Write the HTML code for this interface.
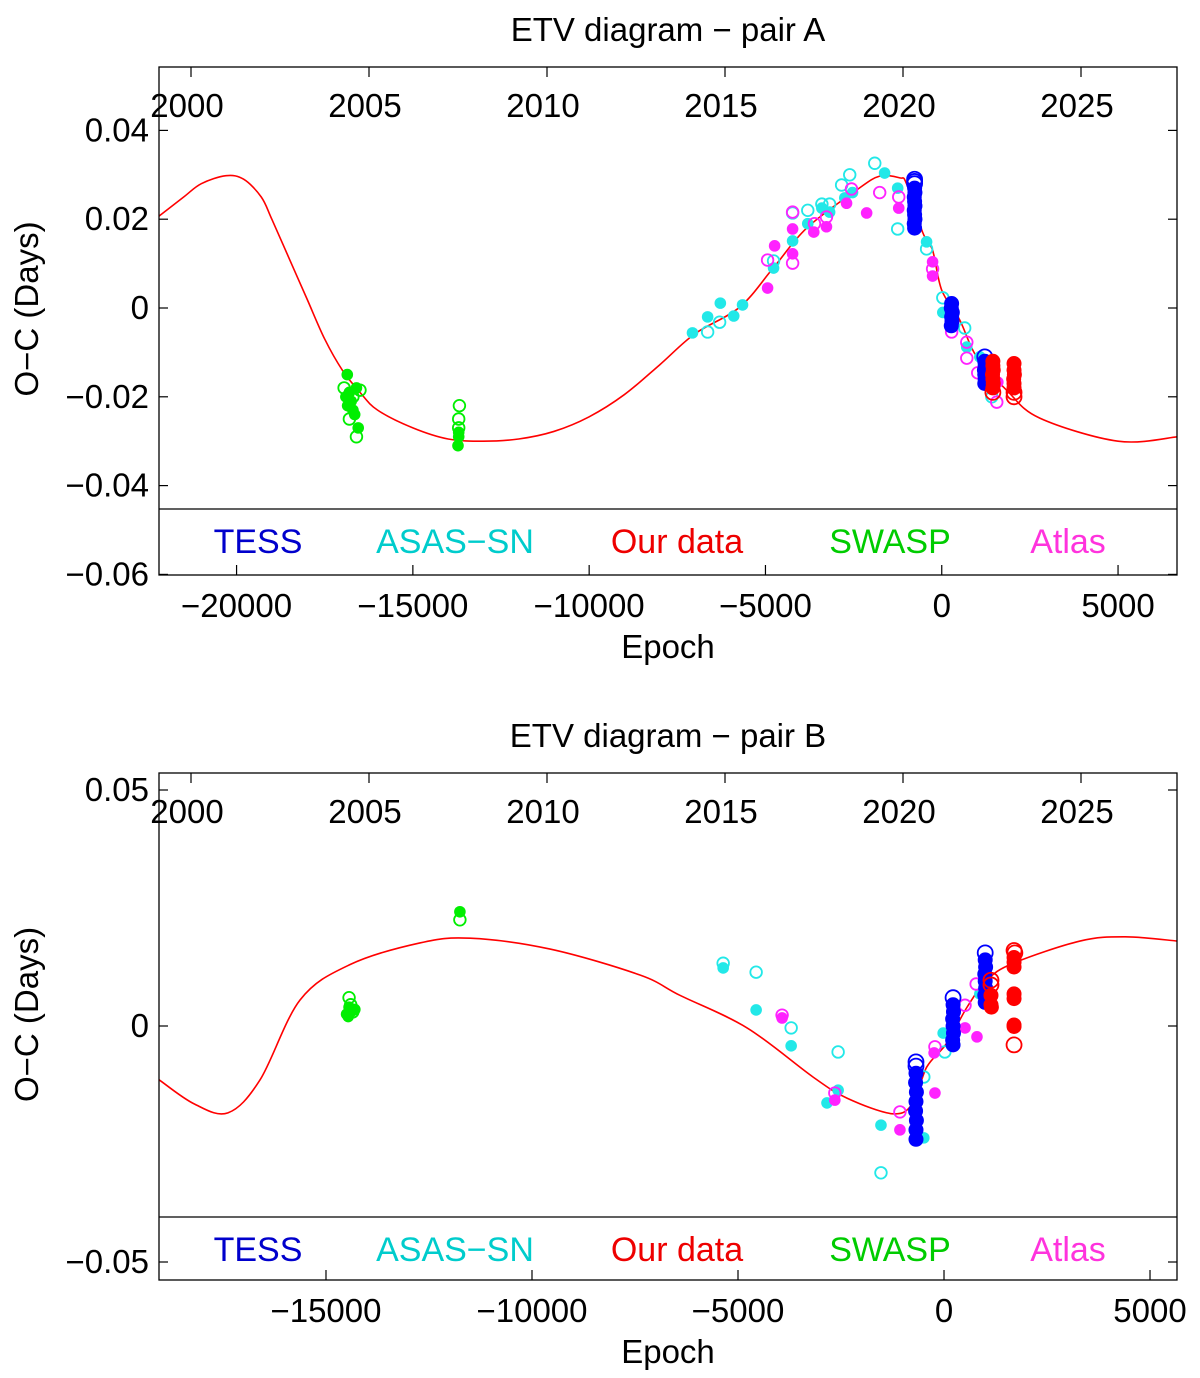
<!DOCTYPE html>
<html><head><meta charset="utf-8"><style>
html,body{margin:0;padding:0;background:#fff}
svg{display:block}
text{font-family:"Liberation Sans",sans-serif;fill:#000}
</style></head><body>
<svg id="chart" width="1200" height="1378" viewBox="0 0 1200 1378"></svg>
<script>
// ---------- Panel A data ----------
const curveA_epoch=[-22200,-21500,-21000,-20300,-19800,-19300,-19000,-18500,-18000,-17500,-17000,-16500,-16000,-15000,-14000,-13000,-12000,-11000,-10000,-9000,-8000,-7000,-5730,-4780,-3830,-2410,-1760,-1190,-1000,-540,-260,0,510,990,1840,2780,5000,6700];
const curveA_oc=[0.0207,0.025,0.028,0.0298,0.029,0.025,0.020,0.011,0.002,-0.007,-0.014,-0.019,-0.023,-0.027,-0.0295,-0.030,-0.0295,-0.0278,-0.0245,-0.0195,-0.0128,-0.0058,0.0002,0.009,0.018,0.0266,0.0297,0.0293,0.028,0.017,0.013,0.004,-0.0027,-0.011,-0.0185,-0.0248,-0.030,-0.029];
const swaspA=[[-16860,-0.015,1],[-16800,-0.019,1],[-16900,-0.020,1],[-16750,-0.021,1],[-16850,-0.022,1],[-16700,-0.023,1],[-16650,-0.024,1],[-16550,-0.027,1],[-16600,-0.018,1],[-16950,-0.018,0],[-16700,-0.020,0],[-16500,-0.0185,0],[-16800,-0.025,0],[-16600,-0.029,0],[-13700,-0.028,1],[-13700,-0.029,1],[-13720,-0.031,1],[-13680,-0.022,0],[-13700,-0.025,0],[-13700,-0.027,0]];
const asasA=[[-7070,-0.0056,1],[-6640,-0.0054,0],[-6640,-0.002,1],[-6280,0.0011,1],[-6300,-0.0032,0],[-5900,-0.0018,1],[-5650,0.0007,1],[-4770,0.009,1],[-4770,0.0106,0],[-4230,0.0151,1],[-4230,0.0214,0],[-3800,0.019,1],[-3800,0.022,0],[-3400,0.0225,1],[-3400,0.0234,0],[-3180,0.0234,0],[-3180,0.0216,1],[-2840,0.0277,0],[-2610,0.030,0],[-2750,0.0248,1],[-2530,0.026,1],[-1900,0.0326,0],[-1620,0.0304,1],[-1250,0.0178,0],[-1250,0.027,1],[-430,0.0149,1],[-430,0.0133,0],[30,0.0023,0],[30,-0.001,1],[650,-0.0045,0],[710,-0.0088,1],[1080,-0.011,1],[1420,-0.020,0]];
const atlasA=[[-4940,0.0045,1],[-4940,0.0108,0],[-4740,0.014,1],[-4230,0.0178,1],[-4230,0.0122,1],[-4230,0.0101,0],[-4230,0.0216,0],[-3630,0.0171,1],[-3610,0.019,0],[-3270,0.0183,1],[-3270,0.0205,0],[-2700,0.0236,1],[-2560,0.0268,0],[-2130,0.0214,1],[-1760,0.026,0],[-1220,0.0225,1],[-1220,0.025,0],[-260,0.0104,1],[-260,0.0072,1],[-260,0.0088,0],[280,-0.0054,0],[710,-0.0077,0],[710,-0.0113,0],[1020,-0.0146,0],[1560,-0.0212,0],[1590,-0.0167,1]];
const tessA=[[-770,0.029,0],[-770,0.0285,0],[-770,0.028,0],[-770,0.027,1],[-760,0.026,1],[-780,0.025,1],[-770,0.024,1],[-760,0.023,1],[-780,0.022,1],[-770,0.021,1],[-760,0.020,1],[-780,0.019,1],[-770,0.018,1],[280,0.001,1],[270,0,1],[300,-0.001,1],[280,-0.002,1],[290,-0.003,1],[270,-0.004,1],[1220,-0.011,0],[1220,-0.012,1],[1230,-0.013,1],[1210,-0.014,1],[1220,-0.015,1],[1230,-0.016,1],[1220,-0.017,1]];
const oursA=[[1450,-0.012,1],[1450,-0.013,1],[1460,-0.014,1],[1440,-0.015,1],[1450,-0.016,1],[1460,-0.017,1],[1450,-0.018,1],[1450,-0.019,0],[2050,-0.0125,1],[2050,-0.014,1],[2060,-0.015,1],[2040,-0.016,1],[2050,-0.017,1],[2050,-0.018,1],[2050,-0.019,0],[2050,-0.020,0]];
// ---------- Panel B data ----------
const curveB_epoch=[-19050,-18200,-17380,-16600,-15630,-14420,-12720,-11500,-9560,-7380,-6410,-4780,-3180,-2350,-1240,-750,-420,70,560,1040,1680,3300,4400,5660];
const curveB_oc=[-0.0114,-0.0165,-0.0184,-0.0114,0.0055,0.013,0.0176,0.0186,0.0163,0.0108,0.0065,-0.0004,-0.0108,-0.0153,-0.0186,-0.0163,-0.0087,-0.0036,0.004,0.0097,0.0133,0.018,0.0189,0.018];
const swaspB=[[-14440,0.004,1],[-14400,0.003,1],[-14460,0.002,1],[-14300,0.0035,1],[-14500,0.0025,1],[-14440,0.006,0],[-14400,0.0045,0],[-14350,0.003,0],[-11750,0.0242,1],[-11750,0.0225,0]];
const asasB=[[-5360,0.0133,0],[-5360,0.0123,1],[-4560,0.0114,0],[-4560,0.0034,1],[-3710,-0.0004,0],[-3710,-0.0042,1],[-2570,-0.0055,0],[-2570,-0.0136,1],[-2840,-0.0163,1],[-1530,-0.021,1],[-1530,-0.0311,0],[-490,-0.0108,0],[-490,-0.0237,1],[-20,-0.0015,1],[20,-0.0055,0],[870,0.0068,1]];
const atlasB=[[-3930,0.0023,0],[-3930,0.0017,1],[-2650,-0.0142,0],[-2650,-0.0157,1],[-1070,-0.0182,0],[-1070,-0.022,1],[-220,-0.0044,0],[-240,-0.0057,1],[-220,-0.0142,1],[510,0.0044,0],[510,-0.0004,1],[800,-0.0023,1],[780,0.0089,0]];
const tessB=[[-680,-0.0076,0],[-680,-0.0085,0],[-680,-0.010,1],[-690,-0.012,1],[-670,-0.014,1],[-680,-0.016,1],[-690,-0.018,1],[-670,-0.020,1],[-680,-0.022,1],[-680,-0.024,1],[220,0.006,0],[220,0.0045,1],[230,0.003,1],[210,0.0015,1],[220,0,1],[230,-0.0015,1],[210,-0.003,1],[220,-0.004,1],[1000,0.0155,0],[1000,0.014,1],[1010,0.0125,1],[990,0.011,1],[1000,0.0095,1],[1010,0.008,1],[990,0.0065,1],[1000,0.005,1]];
const oursB=[[1140,0.0097,0],[1140,0.0087,0],[1140,0.0065,1],[1140,0.0045,1],[1150,0.004,1],[1700,0.016,0],[1720,0.0155,0],[1700,0.0145,1],[1700,0.0135,1],[1700,0.0125,1],[1700,0.0068,1],[1700,0.0058,1],[1700,0.0002,1],[1700,-0.0001,1],[1700,-0.004,0]];
const yearTicks=[2000,2005,2010,2015,2020,2025];
const epochTicksA=[-20000,-15000,-10000,-5000,0,5000];
const epochTicksB=[-15000,-10000,-5000,0,5000];
const yTicksA=[0.04,0.02,0,-0.02,-0.04,-0.06];
const yTicksB=[0.05,0,-0.05];
const legendLabels=["TESS","ASAS\u2212SN","Our data","SWASP","Atlas"];
const legendColors=["#0000cc","#00cccc","#ee0000","#00cc00","#ff33dd"];

const NS="http://www.w3.org/2000/svg";
const svg=document.getElementById('chart');
function el(tag,attrs,parent){const e=document.createElementNS(NS,tag);for(const k in attrs)e.setAttribute(k,attrs[k]);(parent||svg).appendChild(e);return e;}
function fmt(v){if(v===0)return"0";let s=String(v);return s.replace('-','\u2212');}

function panel(cfg){
  const g=el('g',{});
  
  
  const L=159,R=1177,T=cfg.top,B=cfg.bottom;
  const xs=e=>L+(e-cfg.e0)/(cfg.e1-cfg.e0)*(R-L);
  const ys=v=>cfg.y0px-(v-cfg.v0)*cfg.pxPerUnit;
  const yearX=y=>191+(y-2000)*35.6;
  const t=el('text',{x:668,y:T-26,'font-size':33,'text-anchor':'middle'},g);t.textContent=cfg.title;
  
  const cid='clip'+cfg.id;
  const cp=el('clipPath',{id:cid},g);el('rect',{x:L,y:T,width:R-L,height:cfg.sep-T},cp);
  const pts=cfg.ce.map((e,i)=>[xs(e),ys(cfg.cv[i])]);
  let d='M'+pts[0][0]+','+pts[0][1];
  for(let i=0;i<pts.length-1;i++){const p0=pts[Math.max(0,i-1)],p1=pts[i],p2=pts[i+1],p3=pts[Math.min(pts.length-1,i+2)];
    const c1=[p1[0]+(p2[0]-p0[0])/6,p1[1]+(p2[1]-p0[1])/6],c2=[p2[0]-(p3[0]-p1[0])/6,p2[1]-(p3[1]-p1[1])/6];
    d+=' C'+c1[0]+','+c1[1]+' '+c2[0]+','+c2[1]+' '+p2[0]+','+p2[1];}
  const c=el('path',{d:d,fill:'none',stroke:'#ff0000','stroke-width':1.6,'clip-path':'url(#'+cid+')'},g);
  
  const series=[[cfg.swasp,'#00ee00',5.8,'swasp-point'],[cfg.asas,'#22e8e8',5.8,'asas-sn-point'],[cfg.atlas,'#ff22ff',5.8,'atlas-point'],[cfg.tess,'#0000ff',7.5,'tess-point'],[cfg.ours,'#ff0000',7.5,'our-data-point']];
  series.forEach(s=>{s[0].forEach(p=>{
    const a={cx:xs(p[0]),cy:ys(p[1]),r:s[2]};
    if(p[2]){a.fill=s[1];}else{a.fill='none';a.stroke=s[1];a['stroke-width']=1.8;}
    const ci=el('circle',a,g);
    
    
  });});
  el('rect',{x:L,y:T,width:R-L,height:B-T,fill:'none',stroke:'#000','stroke-width':1.3},g);
  el('line',{x1:L,y1:cfg.sep,x2:R,y2:cfg.sep,stroke:'#000','stroke-width':1.3},g);
  yearTicks.forEach(y=>{const x=yearX(y);el('line',{x1:x,y1:T,x2:x,y2:T+10,stroke:'#000','stroke-width':1.2},g);
    const tx=el('text',{x:x-4,y:T+50,'font-size':33,'text-anchor':'middle'},g);tx.textContent=y;
    });
  cfg.et.forEach(e=>{const x=xs(e);el('line',{x1:x,y1:B,x2:x,y2:B-10,stroke:'#000','stroke-width':1.2},g);
    const tx=el('text',{x:x,y:B+42,'font-size':33,'text-anchor':'middle'},g);tx.textContent=fmt(e);
    });
  cfg.yt.forEach(v=>{const y=ys(v);el('line',{x1:L,y1:y,x2:L+9,y2:y,stroke:'#000','stroke-width':1.2},g);
    el('line',{x1:R,y1:y,x2:R-9,y2:y,stroke:'#000','stroke-width':1.2},g);
    const tx=el('text',{x:149,y:y+11,'font-size':33,'text-anchor':'end'},g);tx.textContent=fmt(v);
    });
  const xt=el('text',{x:668,y:B+83,'font-size':33,'text-anchor':'middle'},g);xt.textContent='Epoch';
  
  const yy=(T+B)/2-12;
  const yt=el('text',{x:38,y:yy,'font-size':33,'text-anchor':'middle',transform:'rotate(-90 38 '+yy+')'},g);yt.textContent='O\u2212C (Days)';
  
  const lx=[258,455,677,890,1068];
  legendLabels.forEach((s,i)=>{const tx=el('text',{x:lx[i],y:cfg.sep+44,'font-size':34,'text-anchor':'middle',fill:legendColors[i]},g);
    tx.style.fill=legendColors[i];tx.textContent=s;
    });
}
panel({id:'A',name:'panel-pair-a',title:'ETV diagram  \u2212 pair A',top:67,bottom:575,sep:509,e0:-22200,e1:6672,y0px:308,v0:0,pxPerUnit:4440,
  ce:curveA_epoch,cv:curveA_oc,swasp:swaspA,asas:asasA,atlas:atlasA,tess:tessA,ours:oursA,et:epochTicksA,yt:yTicksA});
panel({id:'B',name:'panel-pair-b',title:'ETV diagram  \u2212 pair B',top:773,bottom:1280,sep:1217,e0:-19053,e1:5655,y0px:1026,v0:0,pxPerUnit:4720,
  ce:curveB_epoch,cv:curveB_oc,swasp:swaspB,asas:asasB,atlas:atlasB,tess:tessB,ours:oursB,et:epochTicksB,yt:yTicksB});
</script>
</body></html>
